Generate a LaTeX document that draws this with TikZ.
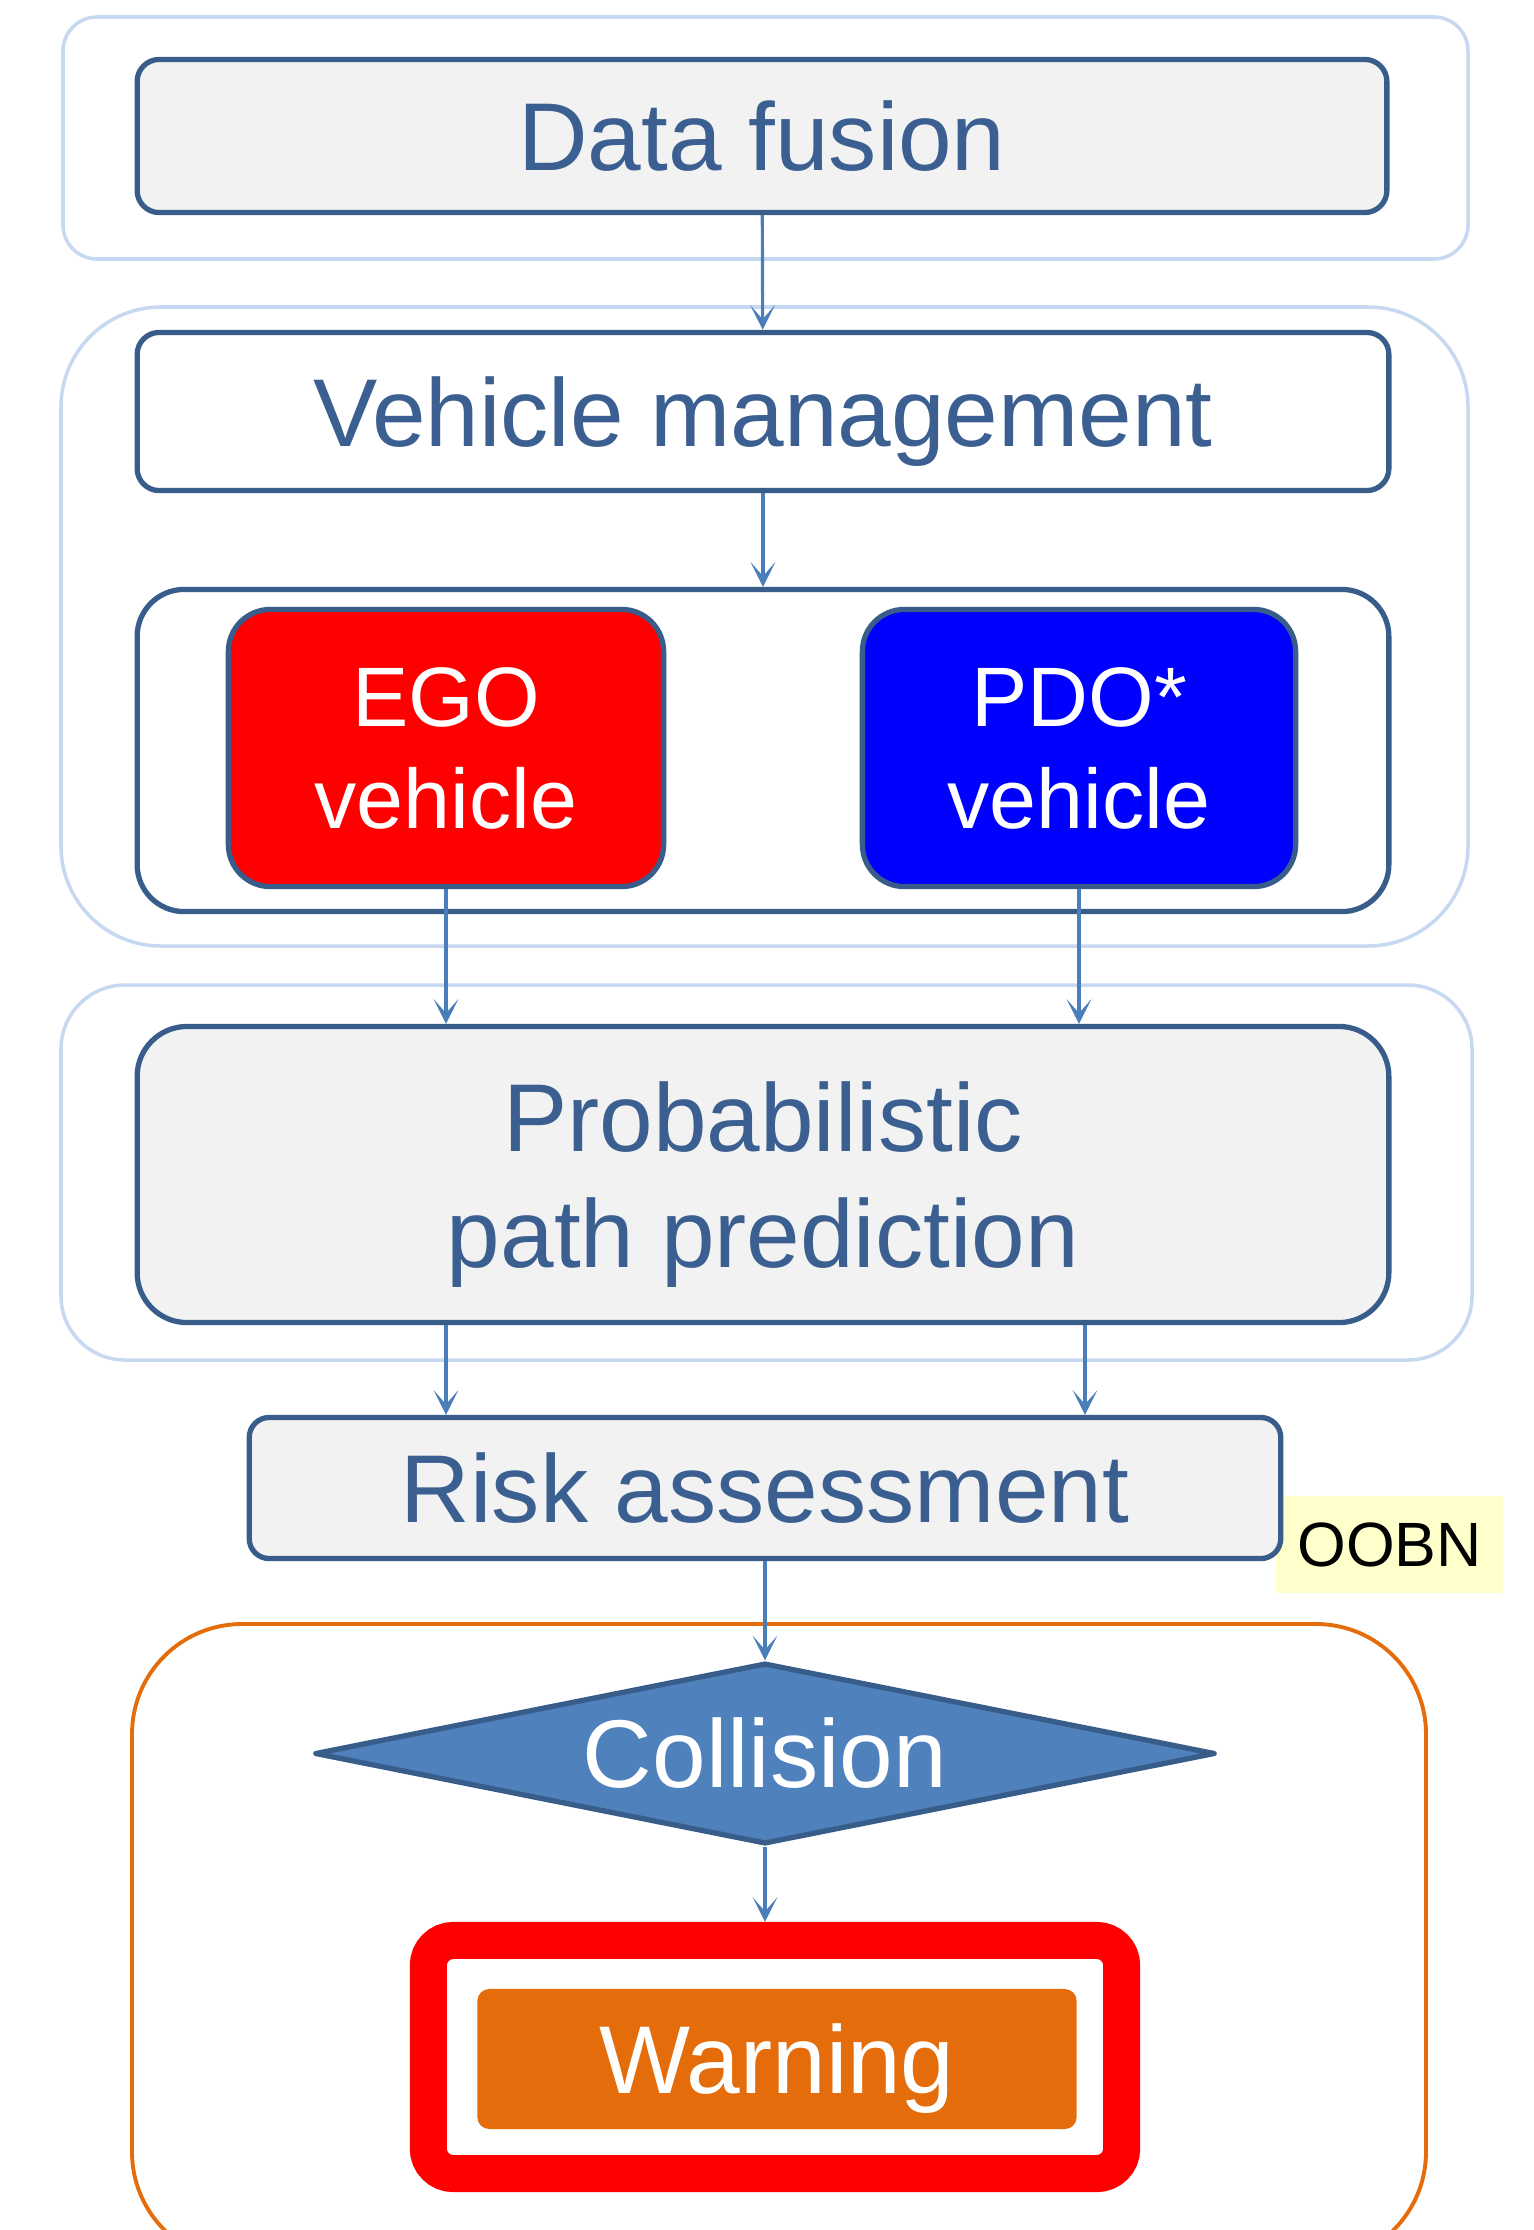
\documentclass[tikz,border=0pt]{standalone}
\usepackage{fontspec}
\setmainfont{Liberation Sans}
\usetikzlibrary{shapes.geometric,arrows.meta}

\definecolor{dkblue}{HTML}{385D8A}
\definecolor{txtblue}{HTML}{3A5F90}
\definecolor{lnblue}{HTML}{4A7EBB}
\definecolor{grpblue}{HTML}{C6D9F1}
\definecolor{boxgray}{HTML}{F2F2F2}
\definecolor{accblue}{HTML}{4F81BD}
\definecolor{orng}{HTML}{E46C0A}
\definecolor{paleyellow}{HTML}{FFFFCC}

\tikzset{
  box/.style={draw=dkblue, line width=1.5pt, rounded corners=#1, text=txtblue,
    inner sep=0pt, text depth=0pt, align=center, font=\fontsize{27.4}{32.8}\selectfont},
  box/.default=0.22cm,
  car/.style={box=0.42cm, text=white, font=\fontsize{24}{29}\selectfont},
  grp/.style={draw=grpblue, line width=1pt},
  flow/.style={draw=lnblue, line width=0.9pt, -{Stealth[length=7pt,width=7pt,inset=4pt]}}
}

\begin{document}
\begin{tikzpicture}[x=0.01cm, y=-0.01cm]

\useasboundingbox (0,0) rectangle (1533,2230) ;
\clip (0,0) rectangle (1533,2230) ;

\draw [grp, rounded corners=0.34cm] (63,17) rectangle (1468,259) ;
\draw [grp, rounded corners=1cm] (61,307) rectangle (1468,946) ;
\draw [grp, rounded corners=0.64cm] (61,985) rectangle (1472,1360) ;
\draw [draw=orng, line width=1.1pt, rounded corners=1.1cm] (132,1624) rectangle (1426,2262) ;

\node (df) at (762,136) [box, fill=boxgray, minimum width=12.49cm, minimum height=1.53cm] {Data fusion} ;
\node (vm) at (763,411.5) [box, fill=white, minimum width=12.51cm, minimum height=1.58cm] {Vehicle management} ;
\node (vehicles) at (763,750.5) [box=0.47cm, fill=white, minimum width=12.51cm, minimum height=3.22cm] {} ;
\node (ego) at (446,748) [car, fill=red, minimum width=4.35cm, minimum height=2.77cm] {EGO\\vehicle} ;
\node (pdo) at (1079,748) [car, fill=blue, minimum width=4.33cm, minimum height=2.77cm] {PDO*\\vehicle} ;
\node (prob) at (763,1174.5) [box=0.5cm, fill=boxgray, minimum width=12.51cm, minimum height=2.96cm] {Probabilistic\\path prediction} ;
\node (oobn) at (1389.5,1544.5) [fill=paleyellow, inner sep=0pt, minimum width=2.27cm, minimum height=0.97cm, font=\fontsize{17.8}{21}\selectfont] {OOBN} ;
\node (risk) at (765,1488) [box=0.2cm, fill=boxgray, minimum width=10.31cm, minimum height=1.41cm] {Risk assessment} ;
\node (coll) at (765,1753.5) [diamond, draw=dkblue, line width=1.5pt, line join=round, fill=accblue, text=white, inner sep=0pt, aspect=4.85, minimum width=9cm, minimum height=1.81cm, font=\fontsize{27.4}{32.8}\selectfont] {Collision} ;
\node (frame) at (775,2057) [draw=red, line width=3.7mm, rounded corners=0.25cm, minimum width=6.93cm, minimum height=2.33cm] {} ;
\node (warn) at (777,2059) [fill=orng, rounded corners=0.12cm, text=white, inner sep=0pt, text depth=0pt, minimum width=5.99cm, minimum height=1.40cm, font=\fontsize{27.4}{32.8}\selectfont] {Warning} ;

\draw [flow] (df) -- (vm) ;
\draw [flow] (vm) -- (vehicles) ;
\draw [flow] (ego.south) -- (prob.north -| ego.south) ;
\draw [flow] (pdo.south) -- (prob.north -| pdo.south) ;
\draw [flow] (prob.south -| ego.south) -- (risk.north -| ego.south) ;
\draw [flow] ([xshift=0.06cm]prob.south -| pdo.south) -- ([xshift=0.06cm]risk.north -| pdo.south) ;
\draw [flow] (risk) -- (coll) ;
\draw [flow] (coll.south) -- (frame.north -| coll.south) ;
\end{tikzpicture}
\end{document}
